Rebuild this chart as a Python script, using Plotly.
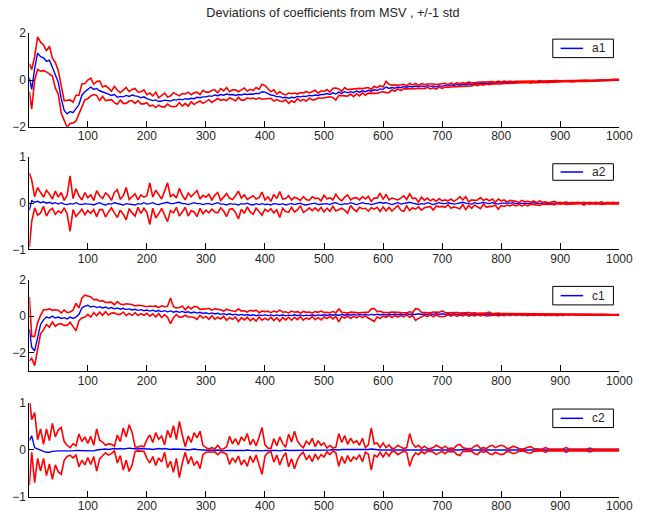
import plotly.graph_objects as go

# sample positions (iteration index)
X = [1] + list(range(5, 1001, 5))

TITLE = "Deviations of coefficients from MSV , +/-1 std"
NAMES = ["a1", "a2", "c1", "c2"]
YRANGES = [[-2, 2], [-1, 1], [-3, 2], [-1, 1]]
YTICKS = [[-2, 0, 2], [-1, 0, 1], [-2, 0, 2], [-1, 0, 1]]
XTICKS = [100, 200, 300, 400, 500, 600, 700, 800, 900, 1000]

A1_MEAN = [0.1, -0.4, 0.5, 1.15, 1.0, 0.95, 0.8, 0.85, 0.55, 0.2, -0.1, -0.8, -1.3, -1.45, -1.35, -1.4, -1.2, -1.05, -0.65, -0.5, -0.4,
           -0.3, -0.4, -0.36, -0.46, -0.5, -0.56, -0.6, -0.66, -0.62, -0.74, -0.7, -0.72, -0.66, -0.7, -0.64, -0.68, -0.7, -0.76, -0.72, -0.8,
           -0.84, -0.88, -0.85, -0.92, -0.9, -0.86, -0.88, -0.9, -0.84, -0.86, -0.82, -0.85, -0.8, -0.82, -0.78, -0.8, -0.74, -0.76, -0.72, -0.72,
           -0.68, -0.7, -0.64, -0.67, -0.62, -0.65, -0.6, -0.63, -0.62, -0.66, -0.62, -0.64, -0.6, -0.62, -0.6, -0.61, -0.57, -0.58, -0.5, -0.52,
           -0.58, -0.64, -0.66, -0.72, -0.7, -0.76, -0.74, -0.78, -0.74, -0.76, -0.7, -0.72, -0.69, -0.7, -0.66, -0.68, -0.64, -0.66, -0.62, -0.62,
           -0.58, -0.62, -0.55, -0.6, -0.52, -0.58, -0.5, -0.55, -0.5, -0.54, -0.47, -0.52, -0.46, -0.5, -0.44, -0.48, -0.42, -0.45, -0.38, -0.4,
           -0.3, -0.36, -0.32, -0.35, -0.3, -0.33, -0.28, -0.31, -0.27, -0.3, -0.26, -0.29, -0.25, -0.28, -0.24, -0.27, -0.25, -0.29, -0.24, -0.27,
           -0.22, -0.26, -0.21, -0.24, -0.19, -0.22, -0.18, -0.2, -0.16, -0.19, -0.15, -0.17, -0.14, -0.16, -0.13, -0.14, -0.12, -0.14, -0.11, -0.13,
           -0.1, -0.12, -0.1, -0.11, -0.09, -0.1, -0.08, -0.09, -0.07, -0.09, -0.07, -0.08, -0.06, -0.07, -0.06, -0.07, -0.05, -0.06, -0.05, -0.06,
           -0.05, -0.05, -0.04, -0.05, -0.04, -0.04, -0.03, -0.04, -0.03, -0.03, -0.03, -0.03, -0.02, -0.02, -0.01, -0.01, 0.0, 0.01, 0.01, 0.01]

A1_STD = [0.6, 0.85, 0.5, 0.7, 0.62, 0.55, 0.45, 0.6, 0.38, 0.55, 0.5, 0.62, 0.42, 0.58, 0.5, 0.45, 0.55, 0.4, 0.48, 0.35, 0.4,
          0.38, 0.22, 0.3, 0.42, 0.2, 0.32, 0.25, 0.18, 0.35, 0.3, 0.16, 0.28, 0.34, 0.2, 0.24, 0.32, 0.18, 0.26, 0.3, 0.17,
          0.28, 0.2, 0.33, 0.16, 0.24, 0.3, 0.15, 0.22, 0.3, 0.26, 0.14, 0.27, 0.2, 0.3, 0.15, 0.25, 0.22, 0.14, 0.28, 0.2,
          0.16, 0.26, 0.22, 0.12, 0.25, 0.18, 0.28, 0.13, 0.2, 0.24, 0.12, 0.22, 0.26, 0.14, 0.2, 0.16, 0.25, 0.18, 0.32, 0.28,
          0.2, 0.14, 0.24, 0.12, 0.2, 0.17, 0.1, 0.22, 0.15, 0.2, 0.1, 0.18, 0.14, 0.21, 0.11, 0.17, 0.2, 0.1, 0.16, 0.13,
          0.17, 0.1, 0.2, 0.26, 0.14, 0.09, 0.18, 0.14, 0.1, 0.17, 0.12, 0.16, 0.09, 0.15, 0.12, 0.08, 0.15, 0.12, 0.14, 0.1,
          0.24, 0.18, 0.1, 0.13, 0.08, 0.12, 0.1, 0.07, 0.12, 0.09, 0.11, 0.06, 0.1, 0.09, 0.07, 0.11, 0.08, 0.1, 0.06, 0.09,
          0.08, 0.06, 0.09, 0.05, 0.08, 0.06, 0.07, 0.05, 0.08, 0.06, 0.05, 0.07, 0.05, 0.06, 0.04, 0.06, 0.05, 0.04, 0.06, 0.04,
          0.05, 0.04, 0.05, 0.03, 0.04, 0.04, 0.03, 0.04, 0.03, 0.04, 0.03, 0.03, 0.04, 0.03, 0.03, 0.04, 0.03, 0.03, 0.03, 0.03,
          0.03, 0.03, 0.02, 0.03, 0.02, 0.03, 0.02, 0.02, 0.03, 0.02, 0.02, 0.02, 0.03, 0.02, 0.02, 0.02, 0.02, 0.02, 0.02, 0.02]

A2_MEAN = [-0.15, 0.05, 0.02, 0.04, 0.01, 0.03, 0.0, 0.02, -0.01, 0.01, -0.02, 0.01, -0.02, -0.03, -0.01, -0.02, 0.01, -0.02, -0.03, -0.01, -0.02,
           -0.02, -0.04, -0.01, 0.01, -0.02, -0.04, -0.01, -0.02, 0.01, -0.01, -0.03, -0.04, -0.01, -0.02, -0.03, -0.04, -0.01, -0.02, 0.01, -0.02,
           -0.01, 0.01, -0.02, -0.03, -0.01, 0.01, 0.02, -0.01, -0.01, 0.01, 0.02, -0.01, -0.01, -0.03, -0.01, 0.01, -0.01, -0.01, -0.03, -0.01,
           -0.01, -0.03, -0.01, 0.01, -0.02, -0.02, -0.04, -0.01, -0.02, -0.02, -0.04, -0.01, -0.02, 0.0, -0.03, -0.04, -0.01, -0.03, -0.01, -0.03,
           -0.02, -0.04, -0.01, -0.02, -0.03, -0.01, -0.04, -0.02, -0.01, -0.03, -0.02, 0.0, -0.03, -0.04, -0.02, -0.01, 0.0, -0.03, -0.02, -0.01,
           -0.01, -0.03, 0.0, 0.01, -0.02, -0.03, -0.01, -0.02, 0.01, -0.01, -0.03, -0.01, 0.01, -0.01, -0.01, -0.03, -0.01, 0.01, 0.02, 0.0,
           0.01, -0.01, -0.03, -0.01, 0.01, -0.02, -0.01, 0.01, 0.02, 0.0, -0.01, -0.03, -0.01, -0.02, 0.01, -0.01, -0.03, -0.01, 0.01, -0.01,
           -0.01, 0.01, -0.01, -0.02, -0.01, 0.01, 0.02, 0.0, -0.01, -0.02, 0.01, -0.01, 0.0, 0.02, 0.0, -0.01, 0.01, -0.01, -0.02, 0.0,
           0.0, -0.01, 0.0, 0.01, -0.01, -0.01, 0.0, 0.0, -0.01, 0.0, 0.01, -0.01, 0.0, 0.0, 0.0, -0.01, 0.0, 0.0, 0.0, 0.0,
           0.0, 0.0, -0.01, 0.0, 0.0, 0.0, 0.0, -0.01, 0.0, 0.0, 0.0, 0.0, 0.0, 0.0, -0.01, 0.0, 0.0, 0.0, 0.0, 0.0]

A2_STD = [0.8, 0.45, 0.12, 0.3, 0.22, 0.1, 0.28, 0.18, 0.1, 0.25, 0.15, 0.22, 0.08, 0.2, 0.6, 0.12, 0.3, 0.18, 0.1, 0.24, 0.14,
          0.2, 0.1, 0.28, 0.15, 0.12, 0.26, 0.18, 0.08, 0.22, 0.3, 0.12, 0.2, 0.35, 0.1, 0.18, 0.24, 0.08, 0.2, 0.12, 0.18,
          0.45, 0.12, 0.3, 0.2, 0.1, 0.25, 0.42, 0.15, 0.2, 0.1, 0.3, 0.18, 0.08, 0.25, 0.15, 0.2, 0.28, 0.1, 0.2, 0.14,
          0.2, 0.1, 0.18, 0.22, 0.08, 0.15, 0.25, 0.12, 0.1, 0.18, 0.3, 0.12, 0.2, 0.08, 0.16, 0.2, 0.1, 0.15, 0.25, 0.1,
          0.16, 0.08, 0.2, 0.12, 0.28, 0.1, 0.14, 0.18, 0.08, 0.16, 0.12, 0.06, 0.17, 0.12, 0.08, 0.15, 0.1, 0.14, 0.07, 0.18,
          0.1, 0.15, 0.07, 0.18, 0.12, 0.08, 0.14, 0.2, 0.06, 0.12, 0.15, 0.08, 0.13, 0.1, 0.16, 0.07, 0.12, 0.1, 0.2, 0.08,
          0.18, 0.08, 0.14, 0.1, 0.06, 0.13, 0.17, 0.07, 0.18, 0.1, 0.12, 0.05, 0.14, 0.08, 0.1, 0.06, 0.12, 0.05, 0.09, 0.06,
          0.08, 0.04, 0.1, 0.06, 0.09, 0.13, 0.05, 0.14, 0.04, 0.09, 0.05, 0.08, 0.12, 0.04, 0.09, 0.06, 0.08, 0.03, 0.11, 0.05,
          0.07, 0.03, 0.06, 0.04, 0.05, 0.02, 0.06, 0.03, 0.05, 0.02, 0.04, 0.02, 0.05, 0.02, 0.03, 0.02, 0.02, 0.04, 0.01, 0.02,
          0.01, 0.03, 0.01, 0.02, 0.01, 0.02, 0.01, 0.03, 0.01, 0.02, 0.01, 0.02, 0.01, 0.03, 0.01, 0.02, 0.01, 0.02, 0.01, 0.02]

C1_MEAN = [-0.7, -1.7, -1.9, -1.1, -0.45, -0.2, -0.05, -0.1, 0.0, -0.1, -0.05, -0.12, -0.08, -0.15, -0.05, -0.12, -0.05, 0.1, 0.45, 0.55, 0.6,
           0.5, 0.55, 0.47, 0.52, 0.45, 0.5, 0.42, 0.47, 0.4, 0.45, 0.38, 0.43, 0.36, 0.4, 0.34, 0.38, 0.32, 0.36, 0.3, 0.34,
           0.28, 0.33, 0.26, 0.31, 0.25, 0.3, 0.24, 0.29, 0.22, 0.27, 0.21, 0.26, 0.2, 0.24, 0.18, 0.23, 0.17, 0.21, 0.15, 0.19,
           0.13, 0.18, 0.12, 0.16, 0.1, 0.14, 0.08, 0.13, 0.07, 0.11, 0.05, 0.1, 0.05, 0.09, 0.04, 0.08, 0.03, 0.07, 0.03, 0.07,
           0.03, 0.07, 0.02, 0.07, 0.03, 0.08, 0.02, 0.06, 0.03, 0.08, 0.03, 0.07, 0.02, 0.06, 0.03, 0.08, 0.03, 0.07, 0.04, 0.08,
           0.04, 0.09, 0.05, 0.09, 0.04, 0.1, 0.05, 0.09, 0.05, 0.1, 0.06, 0.1, 0.06, 0.11, 0.06, 0.1, 0.07, 0.11, 0.07, 0.11,
           0.07, 0.12, 0.08, 0.12, 0.08, 0.12, 0.08, 0.13, 0.09, 0.12, 0.09, 0.13, 0.09, 0.12, 0.09, 0.13, 0.1, 0.13, 0.1, 0.13,
           0.1, 0.13, 0.1, 0.13, 0.1, 0.12, 0.1, 0.13, 0.1, 0.12, 0.1, 0.12, 0.1, 0.12, 0.09, 0.12, 0.09, 0.11, 0.09, 0.11,
           0.09, 0.11, 0.09, 0.11, 0.09, 0.11, 0.09, 0.1, 0.09, 0.1, 0.09, 0.1, 0.09, 0.1, 0.08, 0.1, 0.08, 0.1, 0.08, 0.1,
           0.08, 0.1, 0.08, 0.1, 0.08, 0.09, 0.08, 0.09, 0.08, 0.09, 0.08, 0.09, 0.08, 0.09, 0.08, 0.09, 0.07, 0.09, 0.07, 0.08]

C1_STD = [1.75, 0.6, 0.8, 0.75, 0.5, 0.55, 0.4, 0.5, 0.32, 0.45, 0.38, 0.3, 0.42, 0.35, 0.28, 0.45, 0.75, 0.35, 0.55, 0.6, 0.5,
          0.55, 0.35, 0.45, 0.3, 0.4, 0.25, 0.35, 0.3, 0.22, 0.35, 0.28, 0.2, 0.32, 0.25, 0.3, 0.18, 0.28, 0.22, 0.25, 0.18,
          0.28, 0.2, 0.3, 0.16, 0.32, 0.22, 0.3, 0.7, 0.3, 0.18, 0.26, 0.3, 0.15, 0.28, 0.22, 0.3, 0.35, 0.16, 0.25, 0.2,
          0.3, 0.15, 0.28, 0.22, 0.25, 0.14, 0.3, 0.2, 0.24, 0.15, 0.35, 0.18, 0.25, 0.14, 0.28, 0.2, 0.3, 0.12, 0.25, 0.18,
          0.24, 0.12, 0.26, 0.15, 0.3, 0.14, 0.22, 0.12, 0.25, 0.14, 0.22, 0.1, 0.24, 0.15, 0.2, 0.1, 0.22, 0.14, 0.24, 0.12,
          0.17, 0.1, 0.2, 0.1, 0.35, 0.12, 0.15, 0.08, 0.17, 0.1, 0.15, 0.08, 0.14, 0.09, 0.16, 0.3, 0.35, 0.14, 0.2, 0.1,
          0.13, 0.08, 0.15, 0.08, 0.13, 0.08, 0.12, 0.06, 0.15, 0.08, 0.32, 0.25, 0.12, 0.07, 0.11, 0.06, 0.13, 0.07, 0.11, 0.16,
          0.1, 0.05, 0.1, 0.05, 0.1, 0.05, 0.09, 0.05, 0.1, 0.05, 0.09, 0.04, 0.08, 0.05, 0.08, 0.1, 0.04, 0.05, 0.08, 0.04,
          0.06, 0.03, 0.06, 0.03, 0.05, 0.03, 0.05, 0.03, 0.06, 0.03, 0.05, 0.03, 0.05, 0.03, 0.05, 0.03, 0.04, 0.03, 0.05, 0.03,
          0.04, 0.02, 0.03, 0.02, 0.03, 0.02, 0.03, 0.02, 0.03, 0.02, 0.03, 0.02, 0.03, 0.02, 0.03, 0.02, 0.02, 0.02, 0.02, 0.02]

C2_MEAN = [0.2, 0.3, 0.05, 0.02, 0.0, -0.03, -0.05, -0.05, -0.03, -0.02, -0.02, -0.02, -0.02, -0.02, -0.03, -0.02, -0.01, -0.01, -0.02, -0.02, -0.01,
           -0.01, -0.02, 0.0, 0.01, 0.02, 0.02, 0.01, 0.02, 0.03, 0.02, 0.03, 0.02, 0.03, 0.04, 0.03, 0.02, 0.02, 0.03, 0.02, 0.02,
           0.02, 0.01, 0.02, 0.03, 0.02, 0.03, 0.02, 0.01, 0.02, 0.02, 0.01, 0.02, 0.01, 0.0, 0.01, 0.02, 0.01, 0.0, 0.0, 0.0,
           -0.01, 0.0, -0.01, 0.0, -0.01, -0.02, -0.01, -0.01, -0.02, -0.01, -0.01, -0.02, -0.01, 0.0, -0.01, -0.02, -0.01, -0.02, -0.02, -0.01,
           -0.01, 0.0, -0.01, -0.01, -0.02, -0.01, 0.0, -0.01, -0.01, 0.0, -0.01, 0.0, 0.0, -0.01, 0.0, 0.0, -0.01, 0.0, 0.0, 0.0,
           0.0, 0.0, 0.01, 0.0, 0.0, 0.01, 0.01, 0.0, 0.0, 0.0, 0.0, 0.0, 0.0, 0.0, 0.01, 0.02, 0.01, 0.0, 0.0, 0.0,
           0.0, -0.01, 0.0, 0.0, 0.0, 0.0, 0.0, 0.0, 0.0, -0.01, 0.0, 0.0, 0.0, 0.0, 0.0, 0.0, 0.0, 0.0, 0.0, 0.0,
           0.0, 0.0, 0.0, 0.0, 0.0, 0.0, 0.01, 0.0, 0.0, 0.0, 0.0, 0.0, 0.0, 0.0, 0.0, 0.0, 0.0, 0.0, 0.0, 0.0,
           0.0, 0.0, 0.0, 0.0, 0.0, 0.0, 0.0, 0.0, 0.0, 0.0, 0.0, 0.0, 0.0, 0.0, 0.0, 0.0, 0.0, 0.0, 0.0, 0.0,
           0.0, 0.0, 0.0, 0.0, 0.0, 0.0, 0.0, 0.0, 0.0, 0.0, 0.0, 0.0, 0.0, 0.0, 0.0, 0.0, 0.0, 0.0, 0.0, 0.0]

C2_STD = [0.95, 0.35, 0.75, 0.2, 0.45, 0.15, 0.5, 0.25, 0.6, 0.3, 0.45, 0.5, 0.2, 0.12, 0.08, 0.15, 0.1, 0.35, 0.2, 0.3, 0.15,
          0.3, 0.12, 0.45, 0.2, 0.15, 0.08, 0.12, 0.1, 0.05, 0.3, 0.15, 0.45, 0.25, 0.5, 0.35, 0.05, 0.04, 0.06, 0.05, 0.2,
          0.3, 0.15, 0.35, 0.2, 0.28, 0.08, 0.4, 0.25, 0.5, 0.2, 0.6, 0.3, 0.06, 0.3, 0.15, 0.35, 0.25, 0.4, 0.1, 0.05,
          0.03, 0.05, 0.03, 0.1, 0.03, 0.04, 0.08, 0.3, 0.15, 0.25, 0.12, 0.3, 0.2, 0.35, 0.12, 0.25, 0.1, 0.3, 0.5, 0.12,
          0.05, 0.03, 0.25, 0.1, 0.3, 0.15, 0.06, 0.35, 0.18, 0.4, 0.2, 0.1, 0.05, 0.2, 0.12, 0.25, 0.08, 0.2, 0.1, 0.15,
          0.04, 0.1, 0.03, 0.06, 0.35, 0.15, 0.3, 0.12, 0.25, 0.15, 0.2, 0.1, 0.25, 0.05, 0.1, 0.45, 0.12, 0.15, 0.05, 0.15,
          0.05, 0.12, 0.03, 0.04, 0.1, 0.06, 0.03, 0.05, 0.35, 0.15, 0.06, 0.1, 0.03, 0.08, 0.03, 0.03, 0.05, 0.1, 0.06, 0.03,
          0.08, 0.03, 0.04, 0.03, 0.1, 0.12, 0.04, 0.03, 0.03, 0.03, 0.08, 0.1, 0.03, 0.05, 0.03, 0.08, 0.1, 0.05, 0.08, 0.1,
          0.08, 0.03, 0.04, 0.08, 0.06, 0.03, 0.02, 0.03, 0.06, 0.07, 0.03, 0.02, 0.02, 0.02, 0.05, 0.02, 0.02, 0.03, 0.02, 0.02,
          0.02, 0.05, 0.02, 0.02, 0.02, 0.02, 0.02, 0.02, 0.02, 0.04, 0.02, 0.02, 0.02, 0.02, 0.02, 0.02, 0.02, 0.02, 0.02, 0.02]

MEANS = [A1_MEAN, A2_MEAN, C1_MEAN, C2_MEAN]
STDS = [A1_STD, A2_STD, C1_STD, C2_STD]

W, H = 647, 529
# panel pixel boxes (top, bottom)
PANELS = [(27, 123), (154, 249), (280, 374), (407, 503)]
LEG_BOX = [(33, 52), (161, 178), (287, 306), (413, 432)]
LEG_X0, LEG_X1 = 565, 627
LEG_LINE = (573, 596)
LEG_TEXT_X = 603
X_L, X_R = 30, 633

FONT = "Liberation Sans, Arial, Helvetica, sans-serif"
TXT = "#262626"

fig = go.Figure()
layout = dict(
    width=W, height=H, margin=dict(l=0, r=0, t=0, b=0),
    paper_bgcolor="white", plot_bgcolor="white",
    font=dict(family=FONT, size=12, color=TXT),
    showlegend=False,
    title=dict(text=TITLE, x=333 / W, xanchor="center", y=1 - 13 / H, yanchor="middle",
               font=dict(family=FONT, size=12.7, color=TXT)),
)
shapes, annots = [], []

for i in range(4):
    sfx = "" if i == 0 else str(i + 1)
    xa, ya = "x" + sfx, "y" + sfx
    m, s = MEANS[i], STDS[i]
    up = [a + b for a, b in zip(m, s)]
    lo = [a - b for a, b in zip(m, s)]
    fig.add_trace(go.Scatter(x=X, y=m, mode="lines", name=NAMES[i],
                             line=dict(color="#0000ff", width=1.4),
                             xaxis=xa, yaxis=ya))
    fig.add_trace(go.Scatter(x=X, y=up, mode="lines", line=dict(color="#ff0000", width=1.6),
                             xaxis=xa, yaxis=ya))
    fig.add_trace(go.Scatter(x=X, y=lo, mode="lines", line=dict(color="#ff0000", width=1.6),
                             xaxis=xa, yaxis=ya))
    top, bot = PANELS[i]
    layout["xaxis" + sfx] = dict(
        domain=[X_L / W, X_R / W], anchor=ya, range=[1, 1000],
        tickmode="array", tickvals=XTICKS, ticks="inside", ticklen=6, tickcolor="black",
        showline=True, linecolor="black", linewidth=1, mirror=False,
        showgrid=False, zeroline=False, tickfont=dict(size=12, color=TXT),
        ticklabelstandoff=-2,
    )
    layout["yaxis" + sfx] = dict(
        domain=[1 - bot / H, 1 - top / H], anchor=xa, range=YRANGES[i],
        tickmode="array", tickvals=YTICKS[i], ticks="inside", ticklen=5, tickcolor="black",
        showline=True, linecolor="black", linewidth=1, mirror=False,
        showgrid=False, zeroline=False, tickfont=dict(size=12, color=TXT),
    )
    # legend box (drawn in paper space)
    lt, lb = LEG_BOX[i]
    shapes.append(dict(type="rect", xref="paper", yref="paper",
                       x0=LEG_X0 / W, x1=LEG_X1 / W, y0=1 - lb / H, y1=1 - lt / H,
                       line=dict(color="black", width=1), fillcolor="white", layer="above"))
    ymid = 1 - (lt + lb) / 2 / H
    shapes.append(dict(type="line", xref="paper", yref="paper",
                       x0=LEG_LINE[0] / W, x1=LEG_LINE[1] / W, y0=ymid, y1=ymid,
                       line=dict(color="#0000ff", width=1.5), layer="above"))
    annots.append(dict(text=NAMES[i], xref="paper", yref="paper", x=LEG_TEXT_X / W, y=ymid,
                       xanchor="left", yanchor="middle", showarrow=False,
                       font=dict(family=FONT, size=12, color=TXT)))

layout["shapes"] = shapes
layout["annotations"] = annots
fig.update_layout(**layout)
fig.write_html("out.html")
